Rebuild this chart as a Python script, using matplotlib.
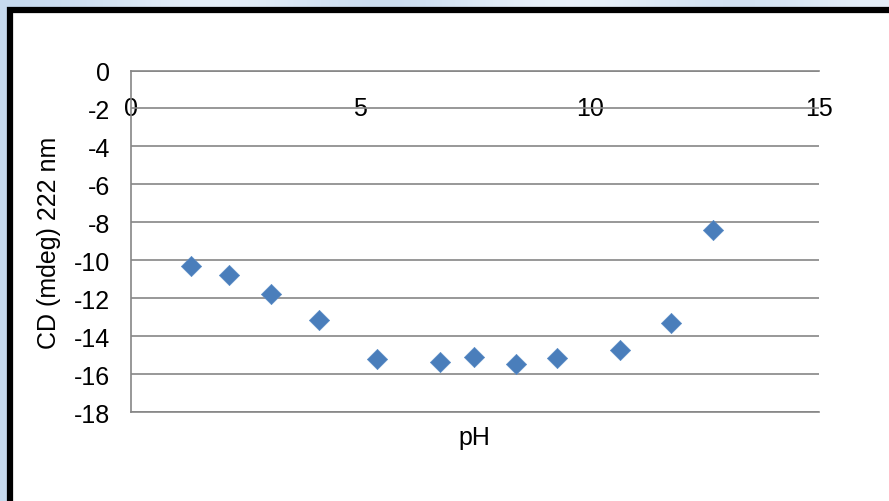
import numpy as np
import matplotlib
matplotlib.use("Agg")
from matplotlib import pyplot as plt
from matplotlib.patches import Rectangle
from matplotlib.colors import LinearSegmentedColormap

# data
ph = [1.31, 2.14, 3.06, 4.11, 5.36, 6.73, 7.48, 8.39, 9.28, 10.66, 11.78, 12.68]
cd = [-10.27, -10.74, -11.79, -13.12, -15.19, -15.33, -15.07, -15.45, -15.16, -14.70, -13.27, -8.39]
xticks = [0, 5, 10, 15]
yticks = list(range(0, -20, -2))

plt.rcParams['font.family'] = ['Liberation Sans', 'DejaVu Sans']
plt.rcParams['axes.unicode_minus'] = False

fig = plt.figure(figsize=(8.89, 5.02), dpi=100)

# light blue backdrop
bg = fig.add_axes([0, 0, 1, 1], zorder=-5)
cmap = LinearSegmentedColormap.from_list('sky', ['#b4cde8', '#f2f7fc'])
grad = np.array([[0.3, 0.6, 0.9, 0.5, 0.3, 0.7, 0.95, 0.6, 0.4, 0.8]])
bg.imshow(grad, cmap=cmap, vmin=0, vmax=1, aspect='auto', interpolation='bicubic',
          extent=[0, 1, 0, 1])
bg.set_axis_off()

# white panel with black frame
fig.patches.append(Rectangle((10 / 889, -0.05), 1.05, 1 - 10.5 / 502 + 0.05,
                             transform=fig.transFigure, facecolor='white',
                             edgecolor='black', linewidth=4.5, zorder=-4))

ax = fig.add_axes([130.7 / 889, 1 - 413.4 / 502, (819 - 130.7) / 889, (413.4 - 71.5) / 502])
ax.set_facecolor('none')
ax.scatter(ph, cd, marker='D', s=10.3 ** 2, color='#4a7ebb', edgecolors='#5a8cc6',
           linewidths=0.5, zorder=3, clip_on=False)

ax.set_xlim(0, 15)
ax.set_ylim(-18, 0)
ax.set_yticks(yticks)
ax.set_xticks(xticks)
ax.grid(axis='y', color='#868686', linewidth=1.2)
ax.set_axisbelow(True)

for s in ['top', 'left', 'bottom']:
    ax.spines[s].set_color('#868686')
    ax.spines[s].set_linewidth(1.2)
ax.spines['right'].set_visible(False)

ax.xaxis.tick_top()
ax.tick_params(axis='x', length=0, labelsize=18, pad=-36, labeltop=True, labelbottom=False)
ax.tick_params(axis='y', length=0, labelsize=18, pad=15)

ax.set_ylabel('CD (mdeg) 222 nm', fontsize=18, labelpad=9)
ax.set_xlabel('pH', fontsize=18, labelpad=9)

fig.savefig('out.png', dpi=100)
